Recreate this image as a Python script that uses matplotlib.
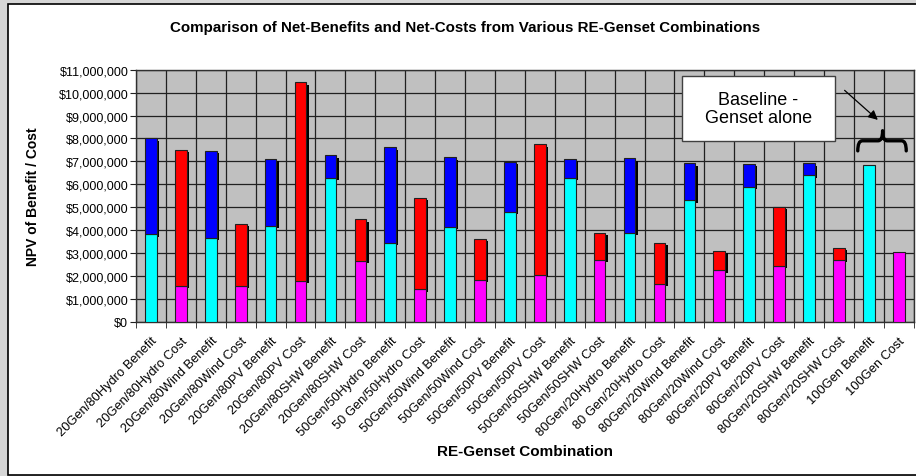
import numpy as np
import matplotlib
matplotlib.use('Agg')
import matplotlib.pyplot as plt
from matplotlib.patches import Rectangle, PathPatch
from matplotlib.path import Path
from matplotlib.ticker import FuncFormatter

plt.rcParams['font.family'] = ['Liberation Sans', 'DejaVu Sans']

# categories (x axis)
labels = ['20Gen/80Hydro Benefit', '20Gen/80Hydro Cost', '20Gen/80Wind Benefit', '20Gen/80Wind Cost',
          '20Gen/80PV Benefit', '20Gen/80PV Cost', '20Gen/80SHW Benefit', '20Gen/80SHW Cost',
          '50Gen/50Hydro Benefit', '50 Gen/50Hydro Cost', '50Gen/50Wind Benefit', '50Gen/50Wind Cost',
          '50Gen/50PV Benefit', '50Gen/50PV Cost', '50Gen/50SHW Benefit', '50Gen/50SHW Cost',
          '80Gen/20Hydro Benefit', '80 Gen/20Hydro Cost', '80Gen/20Wind Benefit', '80Gen/20Wind Cost',
          '80Gen/20PV Benefit', '80Gen/20PV Cost', '80Gen/20SHW Benefit', '80Gen/20SHW Cost',
          '100Gen Benefit', '100Gen Cost']

# lower part of each bar (genset share), in $ millions
lower = [3.82, 1.58, 3.66, 1.58, 4.19, 1.79, 6.27, 2.66, 3.44, 1.42, 4.14, 1.83, 4.80,
         2.05, 6.27, 2.71, 3.90, 1.65, 5.30, 2.25, 5.88, 2.44, 6.39, 2.71, 6.85, 3.05]
# total height of each bar, in $ millions
total = [8.01, 7.52, 7.46, 4.28, 7.10, 10.45, 7.27, 4.48, 7.62, 5.40, 7.18, 3.61, 6.98,
         7.75, 7.10, 3.90, 7.14, 3.45, 6.92, 3.09, 6.88, 5.02, 6.92, 3.24, 6.85, 3.05]

lower = np.array(lower) * 1e6
total = np.array(total) * 1e6
upper = total - lower
x = np.arange(len(labels))

is_benefit = np.array(['Benefit' in s for s in labels])
low_col = np.where(is_benefit, '#00ffff', '#ff00ff')
up_col = np.where(is_benefit, '#0000ff', '#ff0000')

fig = plt.figure(figsize=(9.16, 4.77), dpi=100, facecolor='#d6d6d6')
# white chart area with a black frame
fig.patches.append(Rectangle((0.0085, 0.002), 1.1, 0.988, transform=fig.transFigure,
                             facecolor='white', edgecolor='black', lw=1.2, zorder=-5))

ax = fig.add_axes([0.1485, 0.3229, 0.849, 0.5289])
ax.set_facecolor('#c0c0c0')

w = 0.39
dx, dy = 0.08, 0.1e6
has_top = upper > 0
# shadows behind the upper segments
ax.bar(x[has_top] + dx, upper[has_top], w, bottom=lower[has_top] - dy, color='black', zorder=2)
ax.bar(x, lower, w, color=low_col, edgecolor='#202020', lw=0.8, zorder=3)
ax.bar(x[has_top], upper[has_top], w, bottom=lower[has_top], color=up_col[has_top],
       edgecolor='#202020', lw=0.8, zorder=3)

ax.set_xlim(-0.5, len(labels) - 0.5)
ax.set_ylim(0, 11e6)
ax.set_yticks(np.arange(0, 11.5e6, 1e6))
ax.yaxis.set_major_formatter(FuncFormatter(lambda v, p: '${:,.0f}'.format(v)))
ax.set_xticks(x)
ax.set_xticklabels(labels, rotation=45, ha='right', rotation_mode='anchor', fontsize=9.3)
ax.set_xticks(np.arange(-0.5, len(labels)), minor=True)
ax.tick_params(axis='x', which='major', length=0, pad=9)
ax.tick_params(axis='x', which='minor', length=4, color='#202020')
ax.tick_params(axis='y', length=4, labelsize=9, pad=1.5, color='#202020')

ax.grid(axis='y', which='major', color='#202020', lw=0.9, zorder=1)
ax.grid(axis='x', which='minor', color='#202020', lw=0.9, zorder=1)
ax.set_axisbelow(True)
for s in ax.spines.values():
    s.set_color('#303030')
    s.set_linewidth(1.0)

ax.set_xlabel('RE-Genset Combination', fontsize=11, fontweight='bold')
ax.xaxis.set_label_coords(0.5, -0.485)
ax.set_ylabel('NPV of Benefit / Cost', fontsize=10, fontweight='bold')
ax.yaxis.set_label_coords(-0.123, 0.5)
fig.text(0.508, 0.942, 'Comparison of Net-Benefits and Net-Costs from Various RE-Genset Combinations',
         ha='center', va='center', fontsize=10.9, fontweight='bold')

# baseline annotation
base = len(labels) - 2
ax.add_patch(Rectangle((base - 6.25, 7.89e6), 5.11, 2.83e6, facecolor='white',
                       edgecolor='#404040', lw=1, zorder=5))
ax.text(base - 3.7, 9.3e6, 'Baseline -\nGenset alone', ha='center', va='center',
        fontsize=13, linespacing=1.1, zorder=6)
ax.annotate('', xy=(base + 0.37, 8.73e6), xytext=(base - 0.88, 10.18e6),
            arrowprops=dict(arrowstyle='-|>', color='black', lw=0.9, mutation_scale=14), zorder=6)

# curly brace over the two baseline bars
cx, x0, x1 = base + 0.46, base - 0.37, base + 1.25
yb, ym, yt = 7.46e6, 7.90e6, 8.34e6
r = 0.15
verts = [(x0, yb), (x0, ym), (x0 + r, ym), (cx - r, ym), (cx, ym), (cx, yt),
         (cx, ym), (cx + r, ym), (x1 - r, ym), (x1, ym), (x1, yb)]
codes = [Path.MOVETO, Path.CURVE3, Path.CURVE3, Path.LINETO, Path.CURVE3, Path.CURVE3,
         Path.CURVE3, Path.CURVE3, Path.LINETO, Path.CURVE3, Path.CURVE3]
ax.add_patch(PathPatch(Path(verts, codes), facecolor='none', edgecolor='black', lw=2.4,
                       capstyle='round', joinstyle='round', zorder=6, clip_on=False))

fig.savefig('out.png', dpi=100, facecolor=fig.get_facecolor())
